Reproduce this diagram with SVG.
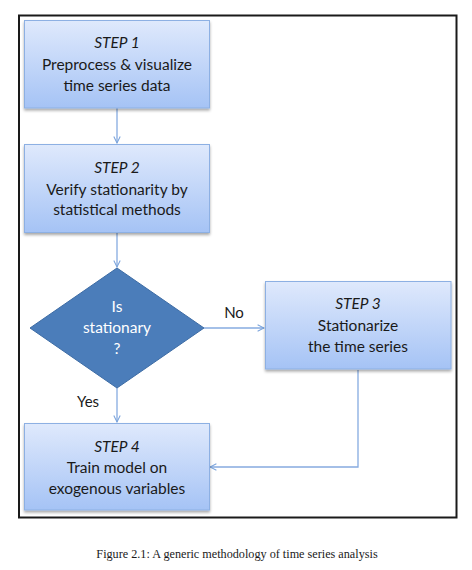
<svg xmlns="http://www.w3.org/2000/svg" width="472" height="570" viewBox="0 0 472 570">
<defs>
<linearGradient id="g" x1="0" y1="0" x2="0" y2="1">
<stop offset="0" stop-color="#dfe9fc"/>
<stop offset="1" stop-color="#a5c3f5"/>
</linearGradient>
<filter id="sh" x="-10%" y="-10%" width="120%" height="130%">
<feGaussianBlur in="SourceAlpha" stdDeviation="1.5"/>
<feOffset dy="2" result="b"/>
<feComponentTransfer><feFuncA type="linear" slope="0.35"/></feComponentTransfer>
<feMerge><feMergeNode/><feMergeNode in="SourceGraphic"/></feMerge>
</filter>
<marker id="ah" viewBox="0 0 10 10" refX="9" refY="5" markerWidth="8" markerHeight="8" orient="auto" markerUnits="userSpaceOnUse">
<path d="M1,1 L9,5 L1,9" fill="none" stroke="#7aa3db" stroke-width="1.3"/>
</marker>
</defs>
<style>
.box{fill:url(#g);stroke:#8db0e3;stroke-width:1;filter:url(#sh)}
.t{font-family:Lato,"Liberation Sans",sans-serif;font-size:15.5px;fill:#1a1a1a;text-anchor:middle}
.i{font-style:italic}
.w{fill:#ffffff}
.c{fill:none;stroke:#86abe0;stroke-width:1.3}
.lbl{font-family:Lato,"Liberation Sans",sans-serif;font-size:15px;fill:#1a1a1a;text-anchor:middle}
</style>
<rect width="472" height="570" fill="#ffffff"/>
<rect x="19" y="15.5" width="437.5" height="502" fill="none" stroke="#1a1a1a" stroke-width="2"/>
<g id="connectors">
<line class="c" x1="117" y1="108" x2="117" y2="143" marker-end="url(#ah)"/>
<line class="c" x1="117" y1="233" x2="117" y2="267" marker-end="url(#ah)"/>
<line class="c" x1="204" y1="328" x2="264" y2="328" marker-end="url(#ah)"/>
<line class="c" x1="117" y1="388" x2="117" y2="422" marker-end="url(#ah)"/>
<polyline class="c" points="358,370 358,467 210,467" marker-end="url(#ah)"/>
<text class="lbl" x="234" y="318">No</text>
<text class="lbl" x="88" y="407">Yes</text>
</g>
<g id="step1">
<rect class="box" x="24.5" y="20.5" width="185" height="87.5"/>
<text class="t i" x="117" y="48">STEP 1</text>
<text class="t" x="117" y="70">Preprocess &amp; visualize</text>
<text class="t" x="117" y="91">time series data</text>
</g>
<g id="step2">
<rect class="box" x="24.5" y="144.5" width="185" height="88"/>
<text class="t i" x="117" y="173">STEP 2</text>
<text class="t" x="117" y="195">Verify stationarity by</text>
<text class="t" x="117" y="215">statistical methods</text>
</g>
<g id="decision">
<polygon points="117,268 204,328 117,388 30,328" fill="#4b7dba" stroke="#3d6ca5" stroke-width="1"/>
<text class="t w" x="117" y="312">Is</text>
<text class="t w" x="117" y="333">stationary</text>
<text class="t w" x="117" y="354">?</text>
</g>
<g id="step3">
<rect class="box" x="265.5" y="281.5" width="185.5" height="87.5"/>
<text class="t i" x="358" y="309">STEP 3</text>
<text class="t" x="358" y="331">Stationarize</text>
<text class="t" x="358" y="352">the time series</text>
</g>
<g id="step4">
<rect class="box" x="24.5" y="423.5" width="185" height="86.5"/>
<text class="t i" x="117" y="452">STEP 4</text>
<text class="t" x="117" y="473">Train model on</text>
<text class="t" x="117" y="494">exogenous variables</text>
</g>
<text x="237" y="558" font-family="'Liberation Serif',serif" font-size="12.2" fill="#1a1a1a" text-anchor="middle">Figure 2.1: A generic methodology of time series analysis</text>
</svg>
